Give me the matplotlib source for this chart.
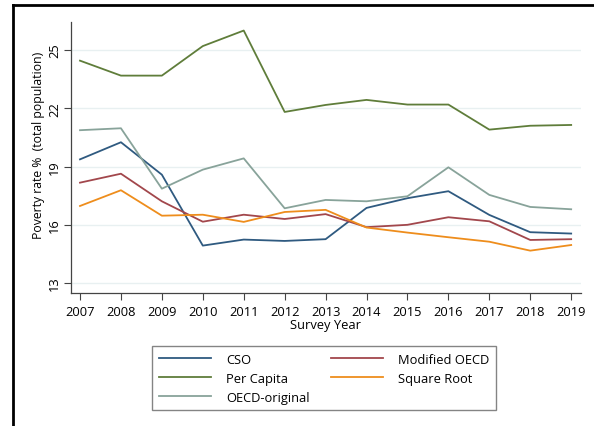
import matplotlib
matplotlib.use('Agg')
import matplotlib.pyplot as plt
from matplotlib.lines import Line2D

plt.rcParams['font.family'] = ['Open Sans', 'DejaVu Sans']

years = list(range(2007, 2020))
cso = [19.37, 20.25, 18.58, 14.93, 15.24, 15.17, 15.26, 16.87, 17.37, 17.73, 16.51, 15.62, 15.55]
modified_oecd = [18.17, 18.63, 17.21, 16.16, 16.52, 16.30, 16.55, 15.88, 16.00, 16.39, 16.18, 15.22, 15.26]
per_capita = [24.45, 23.68, 23.68, 25.20, 26.00, 21.81, 22.17, 22.43, 22.19, 22.19, 20.90, 21.10, 21.14]
square_root = [16.97, 17.78, 16.47, 16.52, 16.15, 16.66, 16.77, 15.86, 15.60, 15.36, 15.13, 14.67, 14.96]
oecd_original = [20.87, 20.97, 17.86, 18.84, 19.42, 16.85, 17.28, 17.21, 17.47, 18.96, 17.54, 16.92, 16.80]
yticks = [13, 16, 19, 22, 25]

fig = plt.figure(figsize=(5.94, 4.27), dpi=100)
W, H = 594, 427
# axes box in pixels: left 71, right 581, top 23, bottom 294
ax = fig.add_axes([71 / W, 1 - 294 / H, (581 - 71) / W, (294 - 23) / H])

lw = 1.3
l_cso, = ax.plot(years, cso, color='#2f5a80', lw=lw, label='CSO')
l_mod, = ax.plot(years, modified_oecd, color='#a2474c', lw=lw, label='Modified OECD')
l_pc, = ax.plot(years, per_capita, color='#5f7d3a', lw=lw, label='Per Capita')
l_sq, = ax.plot(years, square_root, color='#ee8d1c', lw=lw, label='Square Root')
l_oo, = ax.plot(years, oecd_original, color='#88a39a', lw=lw, label='OECD-original')

ax.set_xlim(2006.78, 2019.24)
ax.set_ylim(12.49, 26.44)
ax.set_xticks(years)
ax.set_yticks(yticks)
ax.set_yticklabels([str(t) for t in yticks], rotation=90, va='center')
ax.tick_params(labelsize=9.3, color='#444444', length=5, width=0.8)
ax.tick_params(axis='y', pad=2)
ax.grid(axis='y', color='#e8f0f1', lw=1)
ax.set_axisbelow(True)
for s in ['top', 'right']:
    ax.spines[s].set_visible(False)
for s in ['left', 'bottom']:
    ax.spines[s].set_color('#444444')
    ax.spines[s].set_linewidth(0.9)

ax.set_xlabel('Survey Year', fontsize=9.3, labelpad=0)
ax.set_ylabel('Poverty rate %  (total population)', fontsize=8.8)
ax.yaxis.set_label_coords((45 - 71) / (581 - 71), (294 - 145) / (294 - 23))

# column-major fill -> rows: CSO/Modified OECD, Per Capita/Square Root, OECD-original
handles = [l_cso, l_pc, l_oo, l_mod, l_sq]
leg = fig.legend(handles=handles, labels=[h.get_label() for h in handles],
                 loc='upper left', bbox_to_anchor=(146 / W, 1 - 341 / H), ncol=2,
                 fontsize=9.3, frameon=True, fancybox=False, edgecolor='#666666',
                 handlelength=4, columnspacing=1.65, handletextpad=1.2,
                 borderpad=0.5, labelspacing=0.45)
leg.get_frame().set_linewidth(1.0)

# outer frame (left and top only)
fig.add_artist(Line2D([12.5 / W, 12.5 / W], [0, 1 - 6 / H], color='black', lw=2))
fig.add_artist(Line2D([12.5 / W, 1], [1 - 6 / H, 1 - 6 / H], color='black', lw=2))

fig.savefig('out.png', dpi=100)
